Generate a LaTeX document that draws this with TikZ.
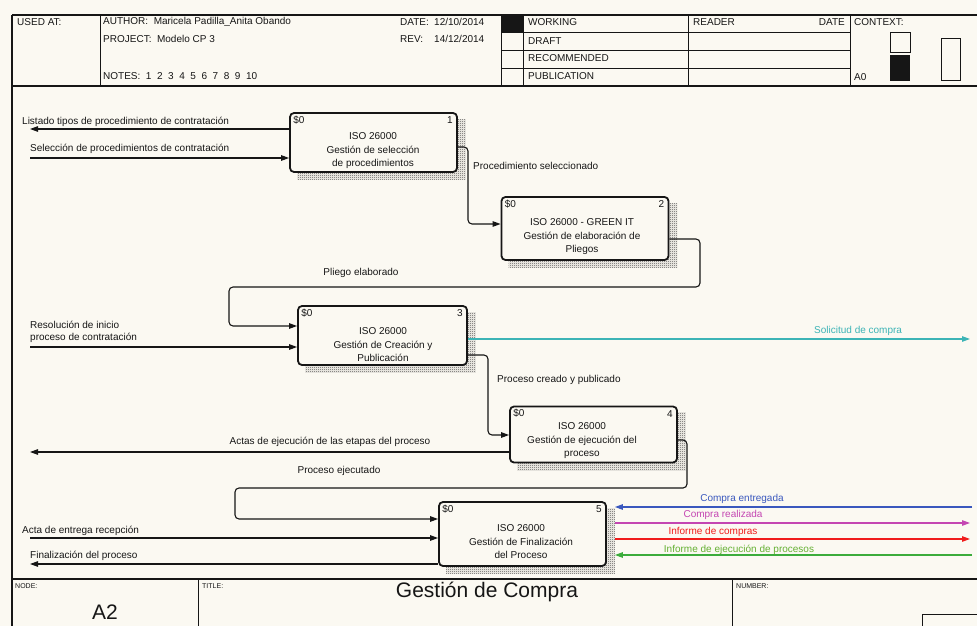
\documentclass[tikz,border=0pt]{standalone}
\usepackage{fontspec}
\setmainfont{Liberation Sans}
\usetikzlibrary{arrows.meta,patterns,calc}

\definecolor{paper}{RGB}{251,249,242}
\definecolor{ink}{RGB}{22,22,22}
\definecolor{flowteal}{RGB}{60,180,182}
\definecolor{flowblue}{RGB}{58,88,190}
\definecolor{flowmag}{RGB}{196,70,178}
\definecolor{flowred}{RGB}{240,28,28}
\definecolor{flowgreen}{RGB}{60,172,60}
\definecolor{labgreen}{RGB}{100,176,50}

% fine checker used for the box shadows
\pgfdeclarepatternformonly{finecheck}{\pgfqpoint{0pt}{0pt}}{\pgfqpoint{2pt}{2pt}}{\pgfqpoint{2pt}{2pt}}{%
  \pgfpathrectangle{\pgfqpoint{0pt}{0pt}}{\pgfqpoint{1pt}{1pt}}%
  \pgfpathrectangle{\pgfqpoint{1pt}{1pt}}{\pgfqpoint{1pt}{1pt}}%
  \pgfusepath{fill}}

\tikzset{
  frame/.style={draw=ink, line width=1.3pt},
  rule/.style={draw=ink, line width=0.9pt},
  txt/.style={font=\fontsize{10}{13.5}\selectfont, text=ink, inner sep=0pt},
  tiny/.style={font=\fontsize{7}{8}\selectfont, text=ink, inner sep=0pt},
  big/.style={font=\fontsize{21}{24}\selectfont, text=ink, inner sep=0pt},
  actbox/.style={draw=ink, line width=1.8pt, rounded corners=4pt, fill=paper,
    inner sep=0pt, minimum width=167pt},
  placeholder/.style={actbox, draw=none, fill=none},
  shade/.style={pattern=finecheck, pattern color=black!70},
  flow/.style={draw=ink, line width=1.1pt, rounded corners=4pt,
    -{Triangle[length=8pt,width=5.5pt]}},
  boxtext/.style={txt, align=center},
}

\newcommand{\actshadow}[1]{%
  \fill[shade] ($(#1.south west)+(8,7)$) rectangle ($(#1.north east)+(8,7)$);}

\begin{document}
\begin{tikzpicture}[x=1pt,y=-1pt]
\useasboundingbox (0,0) rectangle (977,626);
\fill[paper] (0,0) rectangle (977,626);

% ---------- header block ----------
\draw[frame] (12,15) -- (977,15);
\draw[frame] (12,15) -- (12,626);
\draw[frame] (12,86) -- (977,86);
\foreach \x in {100,501,523,688,850} \draw[rule] (\x,15) -- (\x,86);
\foreach \y in {32,50,68} \draw[rule] (501,\y) -- (850,\y);
\fill[ink] (501,15) rectangle (523,32);

\node[txt, anchor=west] (usedat) at (17,22) {USED AT:};
\node[txt, anchor=west] (author) at (103,22) {AUTHOR:\ \ Maricela Padilla\_Anita Obando};
\node[txt, anchor=west] (project) at (103,39) {PROJECT:\ \ Modelo CP 3};
\node[txt, anchor=west] (notes) at (103,76) {NOTES:\ \ 1\ \ 2\ \ 3\ \ 4\ \ 5\ \ 6\ \ 7\ \ 8\ \ 9\ \ 10};
\node[txt, anchor=west] (datek) at (400,22) {DATE:};
\node[txt, anchor=west] (datev) at (434,22) {12/10/2014};
\node[txt, anchor=west] (revk) at (400,39) {REV:};
\node[txt, anchor=west] (revv) at (434,39) {14/12/2014};
\node[txt, anchor=west] (working) at (528,22) {WORKING};
\node[txt, anchor=west] (draft) at (528,41) {DRAFT};
\node[txt, anchor=west] (recom) at (528,58) {RECOMMENDED};
\node[txt, anchor=west] (public) at (528,76) {PUBLICATION};
\node[txt, anchor=west] (reader) at (693,22) {READER};
\node[txt, anchor=east] (rdate) at (845,22) {DATE};
\node[txt, anchor=west] (context) at (854,22) {CONTEXT:};
\node[txt, anchor=west] (ctxnode) at (854,77) {A0};
\draw[rule] (890,32) rectangle (910,52);
\fill[ink] (890,55) rectangle (910,81);
\draw[rule] (941,38) rectangle (960,80);

% ---------- footer block ----------
\draw[frame] (12,579) -- (977,579);
\draw[rule] (198,579) -- (198,626);
\draw[rule] (732,579) -- (732,626);
\draw[rule] (922,614) rectangle (985,640);
\node[tiny, anchor=west] (nodek) at (15,586) {NODE:};
\node[tiny, anchor=west] (titlek) at (202,586) {TITLE:};
\node[tiny, anchor=west] (numberk) at (736,586) {NUMBER:};
\node[big] (nodev) at (105,612) {A2};
\node[big] (titlev) at (487,592) {Gestión de Compra};

% ---------- activity box positions ----------
\node[placeholder, minimum height=59pt] (b1) at (373.5,142.5) {};
\node[placeholder, minimum height=63pt] (b2) at (585,228.5) {};
\node[placeholder, minimum height=59pt, minimum width=169pt] (b3) at (382.5,335.5) {};
\node[placeholder, minimum height=56pt] (b4) at (593.5,434.5) {};
\node[placeholder, minimum height=64pt] (b5) at (522.5,534) {};

% ---------- connector way points ----------
\coordinate (outList) at (30,129);
\coordinate (inSel) at (30,158);
\coordinate (c12a) at (468,147);
\coordinate (c12b) at (468,224);
\coordinate (c23a) at (700,239);
\coordinate (c23b) at (700,287);
\coordinate (c23c) at (229,287);
\coordinate (c23d) at (229,326);
\coordinate (inRes) at (30,347);
\coordinate (outSol) at (970,339);
\coordinate (c34a) at (488,355);
\coordinate (c34b) at (488,435);
\coordinate (outActas) at (30,452);
\coordinate (c45a) at (687,440);
\coordinate (c45b) at (687,488);
\coordinate (c45c) at (235,488);
\coordinate (c45d) at (235,519);
\coordinate (inActa) at (30,538);
\coordinate (outFin) at (30,564);
\coordinate (inEnt) at (972,507);
\coordinate (outReal) at (970,523);
\coordinate (outInf) at (970,539);
\coordinate (inEjec) at (972,555);

% shadows
\actshadow{b1}
\actshadow{b2}
\actshadow{b3}
\actshadow{b4}
\actshadow{b5}

% ---------- connectors ----------
\draw[flow] (b1.west |- outList) -- (outList);
\draw[flow] (inSel) -- (b1.west |- inSel);
\draw[flow] (b1.east |- c12a) -- (c12a) -- (c12b) -- (b2.west |- c12b);
\draw[flow] (b2.east |- c23a) -- (c23a) -- (c23b) -- (c23c) -- (c23d) -- (b3.west |- c23d);
\draw[flow] (inRes) -- (b3.west |- inRes);
\draw[flow, draw=flowteal, -{Triangle[length=8pt,width=5.5pt,fill=flowteal]}]
  (b3.east |- outSol) -- (outSol);
\draw[flow] (b3.east |- c34a) -- (c34a) -- (c34b) -- (b4.west |- c34b);
\draw[flow] (b4.west |- outActas) -- (outActas);
\draw[flow] (b4.east |- c45a) -- (c45a) -- (c45b) -- (c45c) -- (c45d) -- (b5.west |- c45d);
\draw[flow] (inActa) -- (b5.west |- inActa);
\draw[flow] (b5.west |- outFin) -- (outFin);
\draw[flow, draw=flowblue] (inEnt) -- ($(b5.east |- inEnt)+(8,0)$);
\draw[flow, draw=flowmag] ($(b5.east |- outReal)+(8,0)$) -- (outReal);
\draw[flow, draw=flowred] ($(b5.east |- outInf)+(8,0)$) -- (outInf);
\draw[flow, draw=flowgreen] (inEjec) -- ($(b5.east |- inEjec)+(8,0)$);

% ---------- activity boxes, drawn over the connector ends ----------
\node[actbox, minimum height=59pt] at (b1) {};
\node[actbox, minimum height=63pt] at (b2) {};
\node[actbox, minimum height=59pt, minimum width=169pt] at (b3) {};
\node[actbox, minimum height=56pt] at (b4) {};
\node[actbox, minimum height=64pt] at (b5) {};

\foreach \b/\n in {b1/1,b2/2,b3/3,b4/4,b5/5}{
  \node[txt, anchor=west] (\b-ref) at ($(\b.north west)+(4,8)$) {\$0};
  \node[txt, anchor=east] (\b-num) at ($(\b.north east)+(-5,8)$) {\n};
}
\node[boxtext] (t1) at (373,151) {ISO 26000\\Gestión de selección\\de procedimientos};
\node[boxtext] (t2) at (582,237) {ISO 26000 - GREEN IT\\Gestión de elaboración de\\Pliegos};
\node[boxtext] (t3) at (383,345) {ISO 26000\\Gestión de Creación y\\Publicación};
\node[boxtext] (t4) at (582,441) {ISO 26000\\Gestión de ejecución del\\proceso};
\node[boxtext] (t5) at (521,542) {ISO 26000\\Gestión de Finalización\\del Proceso};

% ---------- connector labels ----------
\node[txt, anchor=west] (l1) at (22,122) {Listado tipos de procedimiento de contratación};
\node[txt, anchor=west] (l2) at (30,149) {Selección de procedimientos de contratación};
\node[txt, anchor=west] (l3) at (473,166) {Procedimiento seleccionado};
\node[txt] (l4) at (361,273) {Pliego elaborado};
\node[txt, anchor=west, align=left, font=\fontsize{10}{12}\selectfont] (l5) at (30,332) {Resolución de inicio\\proceso de contratación};
\node[txt, anchor=west, text=flowteal] (l6) at (814,331) {Solicitud de compra};
\node[txt, anchor=west] (l7) at (497,380) {Proceso creado y publicado};
\node[txt] (l8) at (330,442) {Actas de ejecución de las etapas del proceso};
\node[txt] (l9) at (339,471) {Proceso ejecutado};
\node[txt, anchor=west] (l10) at (22,531) {Acta de entrega recepción};
\node[txt, anchor=west] (l11) at (30,556) {Finalización del proceso};
\node[txt, text=flowblue] (l12) at (742,499) {Compra entregada};
\node[txt, text=flowmag] (l13) at (723,515) {Compra realizada};
\node[txt, text=flowred] (l14) at (713,532) {Informe de compras};
\node[txt, text=labgreen] (l15) at (739,550) {Informe de ejecución de procesos};
\end{tikzpicture}
\end{document}
